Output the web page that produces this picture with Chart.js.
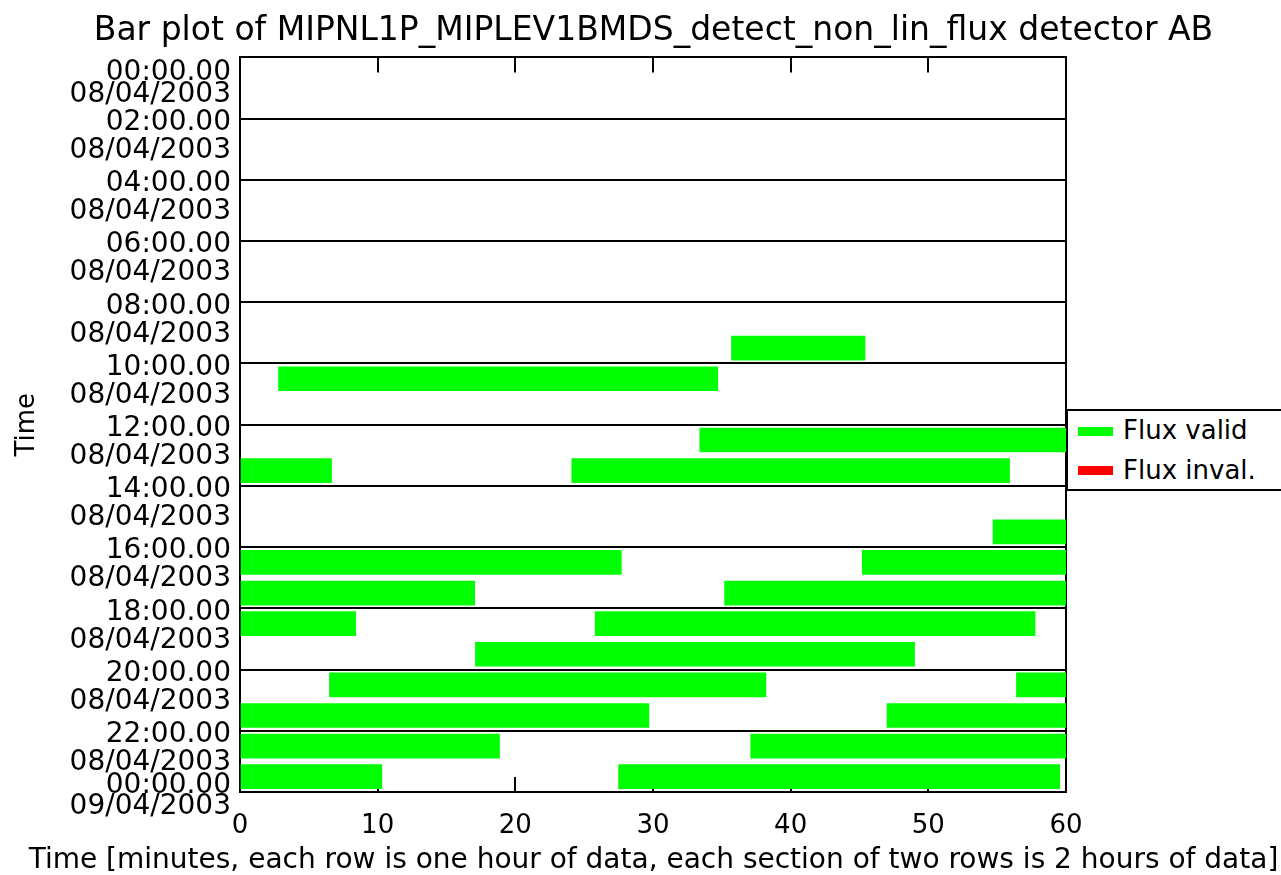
<!DOCTYPE html>
<html>
<head>
<meta charset="utf-8">
<script src="https://cdn.jsdelivr.net/npm/chart.js@4.4.1/dist/chart.umd.min.js"></script>
<style>
html,body{margin:0;padding:0;background:#fff;}
#wrap{position:relative;width:1281px;height:875px;overflow:hidden;background:#fff;}
#c{position:absolute;left:0;top:0;}
#legend{position:absolute;left:1066px;top:409px;width:240px;height:78px;border:2px solid #000;background:#fff;font-family:"DejaVu Sans";font-size:26px;color:#000;}
#legend .sw{position:absolute;left:10px;width:35px;height:9px;}
#legend .tx{position:absolute;left:55px;height:30px;line-height:30px;white-space:nowrap;}
</style>
</head>
<body>
<div id="wrap">
<canvas id="c" width="1281" height="875"></canvas>
<div id="legend"></div>
</div>
<script>
// ---- data ----
const chartTitle = 'Bar plot of MIPNL1P_MIPLEV1BMDS_detect_non_lin_flux detector AB';
const xTitle = 'Time [minutes, each row is one hour of data, each section of two rows is 2 hours of data]';
const yTitle = 'Time';

// hour of day (row) for each valid-flux segment, with start/end in minutes
const validHours = [9, 10, 12, 13, 13, 15, 16, 16, 17, 17, 18, 18, 19, 20, 20, 21, 21, 22, 22, 23, 23];
const validStart = [35.7, 2.8, 33.4, 0, 24.1, 54.7, 0, 45.2, 0, 35.2, 0, 25.8, 17.1, 6.5, 56.4, 0, 47.0, 0, 37.1, 0, 27.5];
const validEnd   = [45.4, 34.7, 60, 6.65, 55.9, 60, 27.7, 60, 17.05, 60, 8.4, 57.75, 49.0, 38.2, 60, 29.7, 60, 18.85, 60, 10.3, 59.55];

// invalid-flux segments (none in this plot)
const invalidHours = [];
const invalidStart = [];
const invalidEnd = [];

// y tick labels (every 2 hours)
const tickTimes = ['00:00.00','02:00.00','04:00.00','06:00.00','08:00.00','10:00.00','12:00.00',
                   '14:00.00','16:00.00','18:00.00','20:00.00','22:00.00','00:00.00'];
const tickDates = ['08/04/2003','08/04/2003','08/04/2003','08/04/2003','08/04/2003','08/04/2003','08/04/2003',
                   '08/04/2003','08/04/2003','08/04/2003','08/04/2003','08/04/2003','09/04/2003'];

const seriesNames = ['Flux valid', 'Flux inval.'];
const seriesColors = ['#00ff00', '#ff0000'];

// ---- build ----
const FONT = 'DejaVu Sans';
Chart.defaults.font.family = FONT;
Chart.defaults.color = '#000';

function segs(hours, st, en) {
  return hours.map((h, i) => ({ y: h + 0.5, x: [st[i], en[i]] }));
}

const chart = new Chart(document.getElementById('c'), {
  type: 'bar',
  data: {
    datasets: [
      { label: seriesNames[0], data: segs(validHours, validStart, validEnd), backgroundColor: seriesColors[0], borderWidth: 0, grouped: false, barThickness: 24 },
      { label: seriesNames[1], data: segs(invalidHours, invalidStart, invalidEnd), backgroundColor: seriesColors[1], borderWidth: 0, grouped: false, barThickness: 24 }
    ]
  },
  options: {
    responsive: false,
    animation: false,
    indexAxis: 'y',
    layout: { padding: { left: 26, right: 0, top: 0, bottom: 0 } },
    plugins: {
      legend: { display: false },
      tooltip: { enabled: false },
      title: {
        display: true, text: chartTitle, color: '#000', fullSize: true,
        font: { family: FONT, size: 33, weight: 'normal', lineHeight: 1.2 },
        padding: { top: 12, bottom: 5.8 }
      },
      subtitle: {
        display: true, position: 'bottom', text: xTitle, color: '#000', fullSize: true,
        font: { family: FONT, size: 28, weight: 'normal', lineHeight: 1.2 },
        padding: { top: 2.5, bottom: -2.3 }
      }
    },
    scales: {
      x: {
        type: 'linear', position: 'bottom', min: 0, max: 60,
        ticks: { stepSize: 10, padding: 34, color: '#000', maxRotation: 0, autoSkip: false,
                 font: { family: FONT, size: 26 } },
        grid: { drawOnChartArea: false, drawTicks: true, tickLength: -15, color: '#000', lineWidth: 2 },
        border: { display: true, color: '#000', width: 2 },
        afterFit: s => { s.height = 49.2; }
      },
      x2: {
        type: 'linear', position: 'top', min: 0, max: 60,
        ticks: { display: false, stepSize: 10 },
        grid: { drawOnChartArea: false, drawTicks: true, tickLength: -15, color: '#000', lineWidth: 2 },
        border: { display: true, color: '#000', width: 2 },
        afterFit: s => { s.height = 0; }
      },
      y: {
        type: 'linear', position: 'left', min: 0, max: 24, reverse: true, offset: false,
        ticks: {
          stepSize: 2, autoSkip: false, padding: 9, color: '#000', labelOffset: 4,
          callback: (v) => {
            const k = Math.round(v / 2);
            if (k === 0) return ['', '', tickTimes[k], tickDates[k]];
            if (k === tickTimes.length - 1) return [tickTimes[k], tickDates[k]];
            return ['', tickTimes[k], tickDates[k]];
          },
          font: (ctx) => {
            const v = ctx.tick ? ctx.tick.value : 2;
            let lh = '28px';
            if (v === 0) lh = '22px';
            else if (v === 24) lh = '21px';
            return { family: FONT, size: 28, lineHeight: lh };
          }
        },
        grid: { offset: false, drawOnChartArea: true, drawTicks: false, color: '#000', lineWidth: 2 },
        border: { display: true, color: '#000', width: 2 },
        title: { display: true, text: yTitle, color: '#000', font: { family: FONT, size: 26 }, padding: { top: -14, bottom: 0 } },
        afterFit: s => { s.width = 214; }
      },
      y2: {
        type: 'linear', position: 'right', min: 0, max: 1,
        ticks: { display: false },
        grid: { drawOnChartArea: false, drawTicks: false },
        border: { display: true, color: '#000', width: 2 },
        afterFit: s => { s.width = 215; }
      }
    }
  }
});

// legend built from the chart's datasets
const lg = document.getElementById('legend');
chart.data.datasets.forEach((ds, i) => {
  const sw = document.createElement('div');
  sw.className = 'sw';
  sw.style.top = (16 + 39 * i) + 'px';
  sw.style.background = ds.backgroundColor;
  const tx = document.createElement('div');
  tx.className = 'tx';
  tx.style.top = (4 + 40 * i) + 'px';
  tx.textContent = ds.label;
  lg.appendChild(sw);
  lg.appendChild(tx);
});
</script>
</body>
</html>
